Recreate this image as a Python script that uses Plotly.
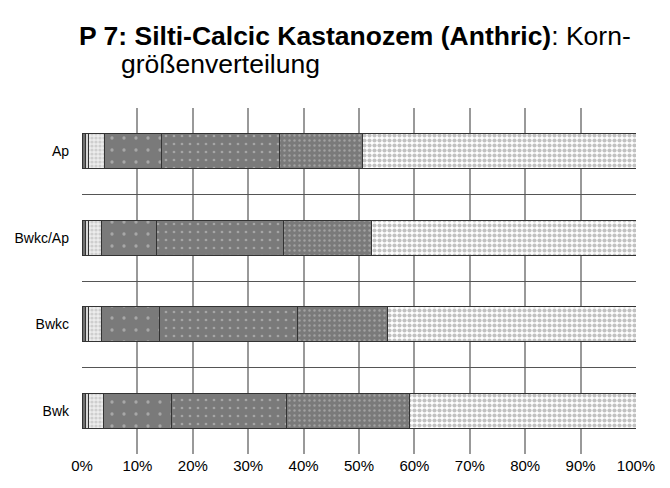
import plotly.graph_objects as go

# ---- data ----
horizons = ["Ap", "Bwkc/Ap", "Bwkc", "Bwk"]
fractions = ["Fraktion 1", "Fraktion 2", "Fraktion 3", "Fraktion 4",
             "Fraktion 5", "Fraktion 6", "Fraktion 7"]
# percent share of each fraction per horizon (order: horizons)
frac1 = [0.6, 0.6, 0.6, 0.6]
frac2 = [0.5, 0.5, 0.5, 0.5]
frac3 = [3.0, 2.4, 2.5, 2.8]
frac4 = [10.3, 9.9, 10.4, 12.2]
frac5 = [21.2, 23.0, 24.9, 20.9]
frac6 = [15.0, 15.8, 16.3, 22.2]
frac7 = [49.4, 47.8, 44.8, 40.8]
series = [frac1, frac2, frac3, frac4, frac5, frac6, frac7]
x_ticks = [0, 10, 20, 30, 40, 50, 60, 70, 80, 90, 100]
x_ticktext = [f"{v}%" for v in x_ticks]

# ---- styles ----
styles = [
    dict(bg="#707070", fg="#707070", shape="", size=8, sol=0.3),
    dict(bg="#d8d8d8", fg="#d8d8d8", shape="", size=8, sol=0.3),
    dict(bg="#ececec", fg="#b0b0b0", shape=".", size=4, sol=0.5),
    dict(bg="#7a7a7a", fg="#d4d4d4", shape=".", size=12, sol=0.06),
    dict(bg="#7a7a7a", fg="#d0d0d0", shape=".", size=8, sol=0.09),
    dict(bg="#7a7a7a", fg="#c8c8c8", shape=".", size=5, sol=0.18),
    dict(bg="#ffffff", fg="#858585", shape=".", size=5, sol=0.55),
]

ypos = list(range(len(horizons) - 1, -1, -1))  # Ap at top

fig = go.Figure()
for name, vals, st in zip(fractions, series, styles):
    fig.add_trace(go.Bar(
        x=vals, y=ypos, orientation="h", name=name,
        width=0.41,
        marker=dict(
            color=st["bg"],
            line=dict(color="#333333", width=1),
            pattern=dict(shape=st["shape"], bgcolor=st["bg"], fgcolor=st["fg"],
                         size=st["size"], solidity=st["sol"], fillmode="overlay"),
        ),
        hoverinfo="x+name",
    ))

# invisible trace to activate the separator axis
fig.add_trace(go.Scatter(x=[None], y=[None], yaxis="y2", showlegend=False))

font = "Liberation Sans, Arial, sans-serif"
fig.update_layout(
    barmode="stack",
    width=670, height=488,
    margin=dict(l=74, r=42, t=100, b=42),
    paper_bgcolor="white", plot_bgcolor="white",
    showlegend=False,
    font=dict(family=font, size=15, color="black"),
    xaxis=dict(
        range=[0, 100], tickvals=x_ticks, ticktext=x_ticktext,
        showgrid=True, gridcolor="#999999", gridwidth=1.5,
        zeroline=False, showline=False, automargin=False,
        ticks="", tickfont=dict(size=15), ticklabelstandoff=1,
    ),
    yaxis=dict(
        range=[-0.5, len(horizons) - 0.5],
        tickvals=ypos, ticktext=horizons,
        showgrid=False, zeroline=False, showline=False, automargin=False,
        ticks="", tickfont=dict(size=14), ticklabelstandoff=12,
    ),
    yaxis2=dict(
        overlaying="y", range=[-0.5, len(horizons) - 0.5],
        tickvals=[0.5 + i for i in range(len(horizons) - 1)],
        showticklabels=False, showgrid=True, gridcolor="#555555", gridwidth=1,
        zeroline=False, showline=False, ticks="", automargin=False,
    ),
    annotations=[
        dict(text="<b>P 7: Silti-Calcic Kastanozem (Anthric)</b>: Korn-",
             xref="paper", yref="paper", x=-0.009, y=1.208,
             xanchor="left", yanchor="middle", showarrow=False,
             font=dict(family=font, size=26.5, color="black")),
        dict(text="größenverteilung",
             xref="paper", yref="paper", x=0.067, y=1.1272,
             xanchor="left", yanchor="middle", showarrow=False,
             font=dict(family=font, size=26.5, color="black")),
    ],
)

fig.write_html("out.html")
